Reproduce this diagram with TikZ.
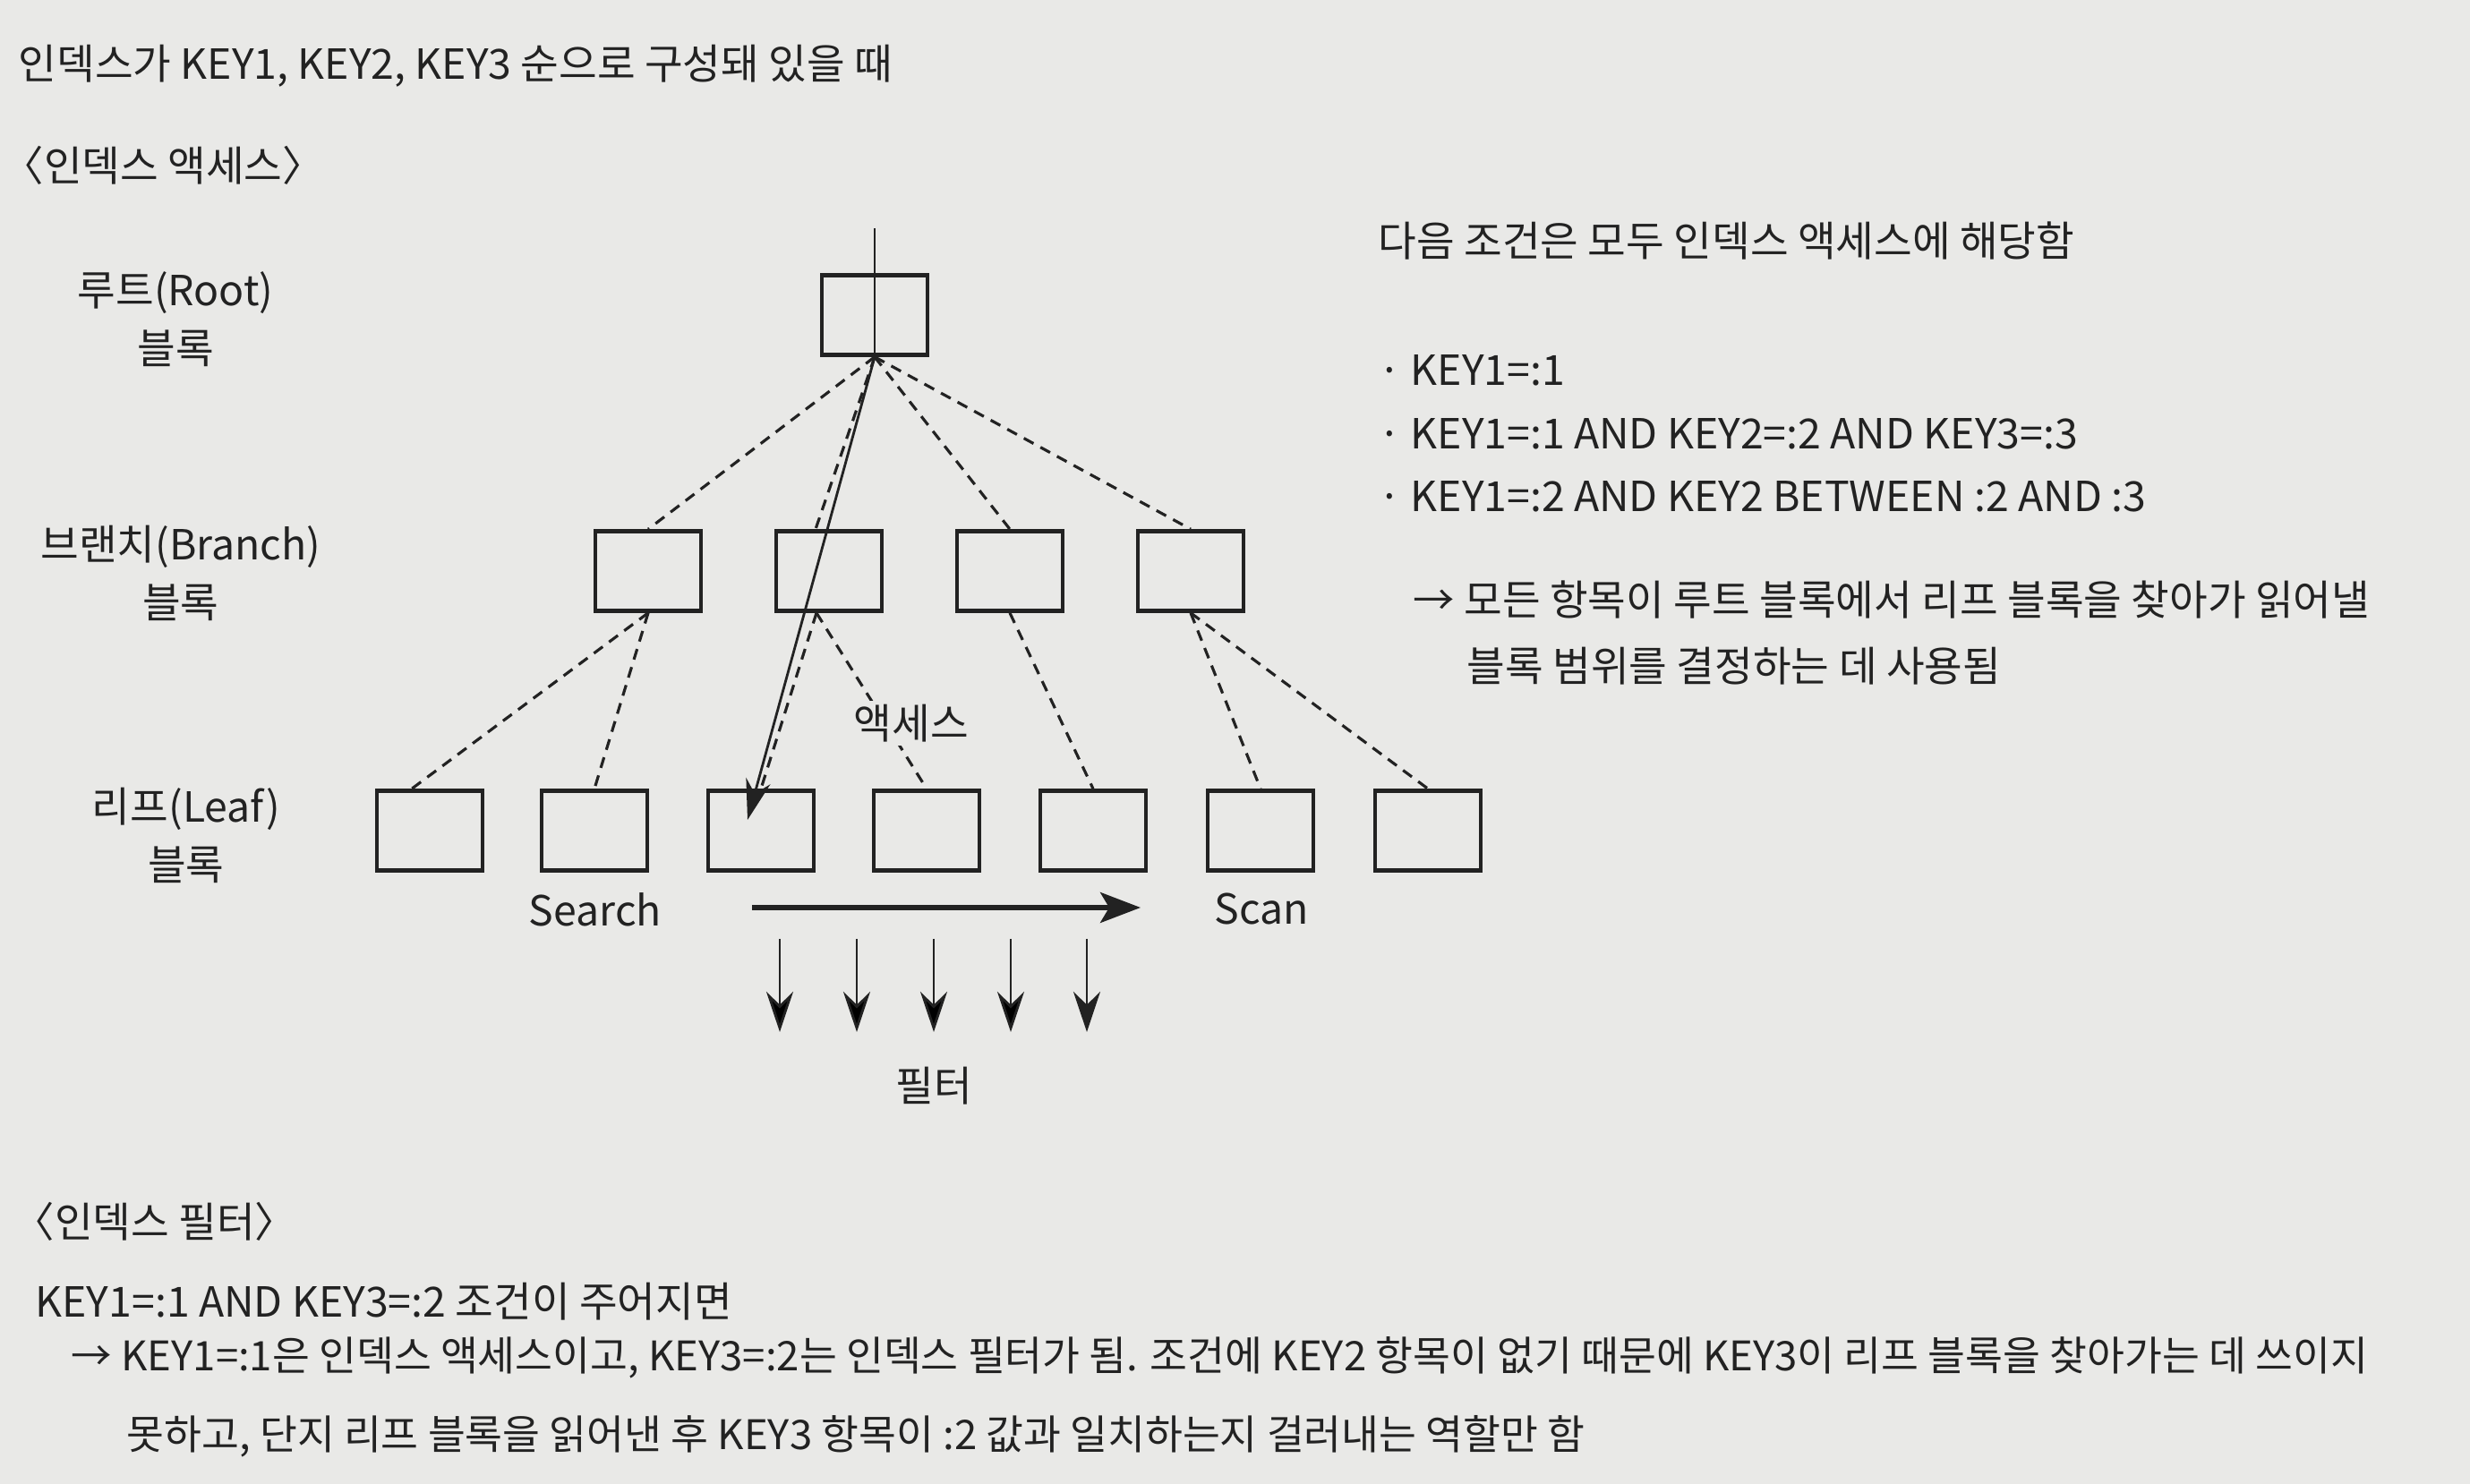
\documentclass[tikz,border=0pt]{standalone}
\usepackage{fontspec}
\setmainfont{Noto Sans CJK KR}
\usetikzlibrary{arrows.meta, positioning}
\definecolor{paper}{RGB}{233,233,231}
\definecolor{ink}{RGB}{34,34,34}
\tikzset{
every node/.style={font=\fontsize{13.2}{18.5}\selectfont, text=ink}, % same text size everywhere
block/.style={draw=ink, line width=1.3pt, minimum width=1.18cm, minimum height=0.89cm, inner sep=0pt}, % one index block
txt/.style={anchor=west, inner sep=0pt}, % lines of plain text
link/.style={draw=ink, line width=0.9pt, dash pattern=on 3.5pt off 2.5pt}, % pointer between blocks
thinline/.style={draw=ink, line width=0.8pt}, % plain solid line
fetch/.style={thinline, -{Stealth[length=4.5mm, width=2.8mm]}}, % access path to the leaf
scanarrow/.style={draw=ink, line width=1.5pt, -{Stealth[length=4.5mm, width=3.4mm, inset=1mm]}}, % scan direction
filterarrow/.style={thinline, -{Stealth[length=4.5mm, width=3mm]}}, % rows going to the filter
}
\begin{document}
\begin{tikzpicture}
    \fill[paper] (0,0) rectangle (27.59,-16.58);
    \useasboundingbox (0,0) rectangle (27.59,-16.58);

    % headings and notes
    \node[txt] (title) at (0.20,-0.74) {인덱스가 KEY1, KEY2, KEY3 순으로 구성돼 있을 때};
    \node[txt] (acchead) at (0.02,-1.85) {〈인덱스 액세스〉};
    \node[txt] (cond) at (15.39,-2.69) {다음 조건은 모두 인덱스 액세스에 해당함};
    \node[txt] (k1) at (15.39,-4.14) {·\hspace{0.1cm}KEY1=:1};
    \node[txt] (k2) at (15.39,-4.85) {·\hspace{0.1cm}KEY1=:1 AND KEY2=:2 AND KEY3=:3};
    \node[txt] (k3) at (15.39,-5.55) {·\hspace{0.1cm}KEY1=:2 AND KEY2 BETWEEN :2 AND :3};
    \node[txt] (note1) at (15.78,-6.70) {→ 모든 항목이 루트 블록에서 리프 블록을 찾아가 읽어낼};
    \node[txt] (note2) at (16.38,-7.44) {블록 범위를 결정하는 데 사용됨};

    % level names
    \node[align=center] (rootlbl) at (1.96,-3.57) {루트(Root)\\블록};
    \node[align=center] (brlbl) at (2.02,-6.40) {브랜치(Branch)\\블록};
    \node[align=center] (lflbl) at (2.08,-9.33) {리프(Leaf)\\블록};

    % blocks
    \node[block] (root) at (9.77,-3.52) {};
    \node[block] (br1) at (7.24,-6.38) {};
    \node[block] (br2) at (9.26,-6.38) {};
    \node[block] (br3) at (11.28,-6.38) {};
    \node[block] (br4) at (13.30,-6.38) {};
    \node[block] (lf1) at (4.80,-9.28) {};
    \node[block] (lf2) at (6.64,-9.28) {};
    \node[block] (lf3) at (8.50,-9.28) {};
    \node[block] (lf4) at (10.35,-9.28) {};
    \node[block] (lf5) at (12.21,-9.28) {};
    \node[block] (lf6) at (14.08,-9.28) {};
    \node[block] (lf7) at (15.95,-9.28) {};

    % pointers
    \draw[link] (root.south) edge (br1.north)
        edge ([xshift=-1.5mm]br2.north)
        edge (br3.north)
        edge (br4.north);
    \draw[link] (br1.south) edge ([xshift=-2mm]lf1.north) edge (lf2.north)
        ([xshift=-1.4mm]br2.south) edge (lf3.north) edge (lf4.north)
        (br3.south) edge (lf5.north)
        (br4.south) edge (lf6.north) edge (lf7.north);
    \node[fill=paper, inner sep=1pt] (acclbl) at (10.18,-8.08) {액세스};

    % access from the top
    \coordinate (entry) at (9.77,-2.55);
    \coordinate (hit) at (8.35,-9.16);
    \draw[thinline] (entry) -- (root.south);
    \draw[fetch] (root.south) -- (hit);

    % scan along the leaves
    \node (search) at (6.65,-10.16) {Search};
    \node (scan) at (14.09,-10.16) {Scan};
    \coordinate (sc1) at (8.40,-10.14);
    \coordinate (sc2) at (12.74,-10.14);
    \draw[scanarrow] (sc1) -- (sc2);

    % filter
    \coordinate (fs1) at (8.71,-10.49);
    \coordinate (fe1) at (8.71,-11.53);
    \coordinate (fs2) at (9.57,-10.49);
    \coordinate (fe2) at (9.57,-11.53);
    \coordinate (fs3) at (10.43,-10.49);
    \coordinate (fe3) at (10.43,-11.53);
    \coordinate (fs4) at (11.29,-10.49);
    \coordinate (fe4) at (11.29,-11.53);
    \coordinate (fs5) at (12.14,-10.49);
    \coordinate (fe5) at (12.14,-11.53);
    \draw[filterarrow] (fs1) edge (fe1) (fs2) edge (fe2) (fs3) edge (fe3)
        (fs4) edge (fe4) (fs5) -- (fe5);
    \node (filter) at (10.43,-12.13) {필터};

    % index filter part
    \node[txt] (filhead) at (0.14,-13.65) {〈인덱스 필터〉};
    \node[txt] (given) at (0.39,-14.54) {KEY1=:1 AND KEY3=:2 조건이 주어지면};
    \node[txt, font=\fontsize{12.95}{18}\selectfont] (expl1) at (0.79,-15.17) {→ KEY1=:1은 인덱스 액세스이고, KEY3=:2는 인덱스 필터가 됨. 조건에 KEY2 항목이 없기 때문에 KEY3이 리프 블록을 찾아가는 데 쓰이지};
    \node[txt, font=\fontsize{12.95}{18}\selectfont] (expl2) at (1.41,-16.05) {못하고, 단지 리프 블록을 읽어낸 후 KEY3 항목이 :2 값과 일치하는지 걸러내는 역할만 함};
\end{tikzpicture}
\end{document}
